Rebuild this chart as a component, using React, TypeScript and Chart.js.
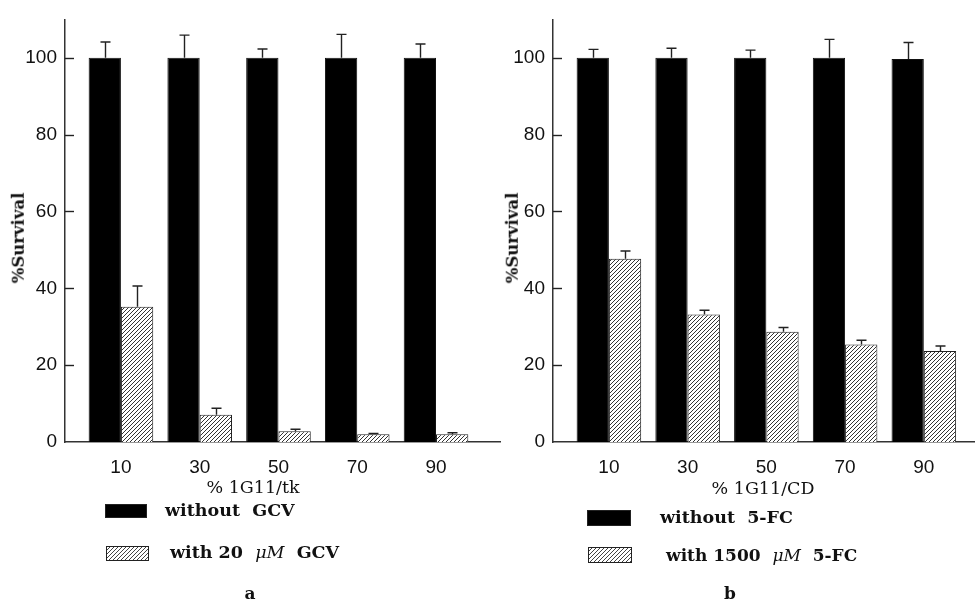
import React, { useEffect, useRef } from "react";
import { Chart, registerables } from "chart.js";

Chart.register(...registerables);

// ---- data ----
const CATS = [10, 30, 50, 70, 90];
const Y_TICKS = [0, 20, 40, 60, 80, 100];

const A_WITHOUT = [100, 100, 100, 100, 100];
const A_WITHOUT_ERR = [104.1, 105.9, 102.3, 106.1, 103.6];
const A_WITH = [35.2, 7.1, 2.8, 2.0, 2.0];
const A_WITH_ERR = [40.6, 8.8, 3.3, 2.2, 2.4];

const B_WITHOUT = [100, 100, 100, 100, 99.7];
const B_WITHOUT_ERR = [102.2, 102.5, 102.0, 104.8, 104.0];
const B_WITH = [47.7, 33.2, 28.7, 25.4, 23.7];
const B_WITH_ERR = [49.7, 34.3, 29.8, 26.5, 25.0];

const TICK_FONT = { family: "'Liberation Sans', Arial, sans-serif", size: 19 };
const SERIF = "'DejaVu Serif', serif";

function makeHatch(): CanvasPattern | string {
  const n = 4;
  const c = document.createElement("canvas");
  c.width = n;
  c.height = n;
  const g = c.getContext("2d");
  if (!g) return "#888";
  g.fillStyle = "#fff";
  g.fillRect(0, 0, n, n);
  g.strokeStyle = "#333";
  g.lineWidth = 1;
  g.beginPath();
  g.moveTo(0, n);
  g.lineTo(n, 0);
  g.moveTo(-1, 1);
  g.lineTo(1, -1);
  g.moveTo(n - 1, n + 1);
  g.lineTo(n + 1, n - 1);
  g.stroke();
  return g.createPattern(c, "repeat") || "#888";
}

const extrasPlugin = {
  id: "extras",
  afterDatasetsDraw(chart: any, _args: any, opts: any) {
    const ctx = chart.ctx as CanvasRenderingContext2D;
    const y = chart.scales.y;
    const errs: number[][] = opts.errs;
    ctx.save();
    ctx.strokeStyle = "#222";
    ctx.lineWidth = 1.4;
    errs.forEach((arr, di) => {
      const meta = chart.getDatasetMeta(di);
      meta.data.forEach((bar: any, j: number) => {
        const top = y.getPixelForValue(arr[j]);
        const x = Math.round(bar.x) + 0.5;
        ctx.beginPath();
        ctx.moveTo(x, bar.y);
        ctx.lineTo(x, top);
        ctx.moveTo(x - 5, top);
        ctx.lineTo(x + 5, top);
        ctx.stroke();
      });
    });
    // inward tick marks on the y axis
    const left = chart.chartArea.left;
    Y_TICKS.forEach((v) => {
      if (v === 0) return;
      const py = Math.round(y.getPixelForValue(v)) + 0.5;
      ctx.beginPath();
      ctx.moveTo(left, py);
      ctx.lineTo(left + 9, py);
      ctx.stroke();
    });
    ctx.restore();
  },
};

interface PanelCfg {
  without: number[];
  withV: number[];
  withoutErr: number[];
  withErr: number[];
  xMax: number;
  yWidth: number;
  labels: [string, string];
}

function buildChart(canvas: HTMLCanvasElement, p: PanelCfg) {
  const hatch = makeHatch();
  return new Chart(canvas, {
    type: "bar",
    data: {
      datasets: [
        {
          label: p.labels[0],
          data: CATS.map((c, i) => ({ x: c, y: p.without[i] })),
          backgroundColor: "#000",
          borderColor: "#111",
          borderWidth: 1,
        },
        {
          label: p.labels[1],
          data: CATS.map((c, i) => ({ x: c, y: p.withV[i] })),
          backgroundColor: hatch as any,
          borderColor: "#222",
          borderWidth: 1,
        },
      ],
    } as any,
    options: {
      animation: false,
      responsive: false,
      layout: { padding: { left: 0, right: 0, top: 12, bottom: 120 } },
      datasets: { bar: { categoryPercentage: 0.82, barPercentage: 1 } },
      plugins: {
        legend: { display: false },
        tooltip: { enabled: false },
        extras: { errs: [p.withoutErr, p.withErr] },
      } as any,
      scales: {
        x: {
          type: "linear",
          min: -4.2,
          max: p.xMax,
          offset: false,
          grid: { display: false, drawTicks: false },
          border: { display: true, color: "#333", width: 1.5 },
          ticks: { font: TICK_FONT, color: "#111", padding: 14, maxRotation: 0, callback: (v: any) => String(v) },
          afterBuildTicks: (s: any) => {
            s.ticks = CATS.map((v) => ({ value: v }));
          },
          afterFit: (s: any) => {
            s.height = 40;
          },
        },
        y: {
          type: "linear",
          min: 0,
          max: 110,
          grid: { display: false, drawTicks: false },
          border: { display: true, color: "#333", width: 1.5 },
          ticks: { font: TICK_FONT, color: "#111", padding: 8 },
          afterBuildTicks: (s: any) => {
            s.ticks = Y_TICKS.map((v) => ({ value: v }));
          },
          afterFit: (s: any) => {
            s.width = p.yWidth;
          },
        },
      },
    } as any,
    plugins: [extrasPlugin],
  });
}

const abs = (style: React.CSSProperties): React.CSSProperties => ({ position: "absolute", ...style });

function Swatch({ left, top, w, h, hatch }: { left: number; top: number; w: number; h: number; hatch?: boolean }) {
  return (
    <div
      style={abs({
        left,
        top,
        width: w,
        height: h,
        boxSizing: "border-box",
        border: "1px solid #222",
        background: hatch
          ? "repeating-linear-gradient(135deg, #fff 0px, #fff 1.8px, #444 1.8px, #444 2.8px)"
          : "#000",
      })}
    />
  );
}

function Label({ left, cy, children, size = 17, bold = true }: { left: number; cy: number; children: React.ReactNode; size?: number; bold?: boolean }) {
  return (
    <div
      style={abs({
        left,
        top: cy,
        transform: "translateY(-50%)",
        fontFamily: SERIF,
        fontWeight: bold ? 700 : 400,
        fontSize: size,
        whiteSpace: "pre",
        color: "#111",
        lineHeight: 1,
      })}
    >
      {children}
    </div>
  );
}

function Centered({ cx, cy, children, size = 17, bold = false, rotate = false }: { cx: number; cy: number; children: React.ReactNode; size?: number; bold?: boolean; rotate?: boolean }) {
  return (
    <div
      style={abs({
        left: cx,
        top: cy,
        transform: `translate(-50%, -50%)${rotate ? " rotate(-90deg)" : ""}`,
        fontFamily: SERIF,
        fontWeight: bold ? 700 : 400,
        fontSize: size,
        whiteSpace: "pre",
        color: "#111",
        lineHeight: 1,
      })}
    >
      {children}
    </div>
  );
}

const Mu = () => <span style={{ fontStyle: "italic", fontWeight: 400 }}>μM</span>;

export default function App() {
  const refA = useRef<HTMLCanvasElement>(null);
  const refB = useRef<HTMLCanvasElement>(null);

  useEffect(() => {
    const a = buildChart(refA.current!, {
      without: A_WITHOUT,
      withV: A_WITH,
      withoutErr: A_WITHOUT_ERR,
      withErr: A_WITH_ERR,
      xMax: 106.5,
      yWidth: 65,
      labels: ["without GCV", "with 20 μM GCV"],
    });
    const b = buildChart(refB.current!, {
      without: B_WITHOUT,
      withV: B_WITH,
      withoutErr: B_WITHOUT_ERR,
      withErr: B_WITH_ERR,
      xMax: 103.0,
      yWidth: 66,
      labels: ["without 5-FC", "with 1500 μM 5-FC"],
    });
    return () => {
      a.destroy();
      b.destroy();
    };
  }, []);

  return (
    <div style={{ position: "fixed", left: 0, top: 0, width: 975, height: 602, background: "#fff", overflow: "hidden" }}>
      <canvas ref={refA} width={501} height={602} style={abs({ left: 0, top: 0 })} />
      <canvas ref={refB} width={488} height={602} style={abs({ left: 487, top: 0 })} />

      <Centered cx={19} cy={238} size={16.5} bold rotate>%Survival</Centered>
      <Centered cx={513} cy={238} size={16.5} bold rotate>%Survival</Centered>

      <Centered cx={253} cy={488} size={17.5}>% 1G11/tk</Centered>
      <Centered cx={763} cy={489} size={17.5}>% 1G11/CD</Centered>

      <Swatch left={105} top={504} w={42} h={14} />
      <Label left={165} cy={511} size={17.5}>{"without  GCV"}</Label>
      <Swatch left={106} top={546} w={43} h={15} hatch />
      <Label left={170} cy={553} size={17.5}>
        {"with 20  "}
        <Mu />
        {"  GCV"}
      </Label>

      <Swatch left={587} top={510} w={44} h={16} />
      <Label left={660} cy={518} size={17.5}>{"without  5-FC"}</Label>
      <Swatch left={588} top={547} w={44} h={16} hatch />
      <Label left={666} cy={555} size={17}>
        {"with 1500  "}
        <Mu />
        {"  5-FC"}
      </Label>

      <Centered cx={250} cy={593} size={17} bold>a</Centered>
      <Centered cx={730} cy={593} size={17} bold>b</Centered>
    </div>
  );
}
